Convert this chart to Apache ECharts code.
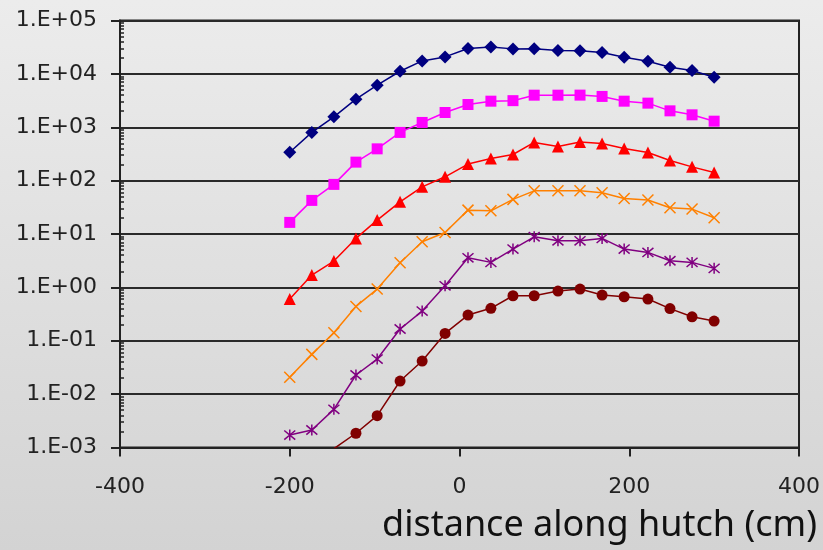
<!DOCTYPE html>
<html>
<head>
<meta charset="utf-8">
<script src="https://cdn.jsdelivr.net/npm/echarts@6/dist/echarts.min.js"></script>
<style>
  html, body { margin: 0; padding: 0; }
  #chart { width: 823px; height: 550px; }
</style>
</head>
<body>
<div id="chart"></div>
<script>
// Measurement positions along the hutch (cm)
const positions = [-200, -174, -148, -122, -97, -70, -44, -17, 10, 37, 63, 88, 116, 142, 168, 194, 222, 248, 274, 300];

// Six curves, top to bottom
const seriesA = [340, 800, 1570, 3360, 6140, 11200, 17500, 20800, 29900, 32000, 29400, 29500, 27400, 27000, 25200, 20500, 17300, 13300, 11600, 8670];
const seriesB = [16.5, 42.6, 85, 222, 394, 800, 1230, 1890, 2670, 3080, 3150, 3990, 3990, 4000, 3780, 3080, 2830, 2030, 1710, 1300];
const seriesC = [0.604, 1.70, 3.11, 8.27, 18.2, 40.1, 76.5, 118, 204, 260, 309, 519, 437, 530, 497, 401, 337, 239, 181, 142];
const seriesD = [0.0207, 0.0556, 0.141, 0.44, 0.93, 2.89, 7.14, 10.7, 28.0, 27.2, 44.5, 64.4, 64.4, 64.4, 59.1, 46.4, 43.2, 31.0, 29.3, 20.1];
const seriesE = [0.00171, 0.00213, 0.00519, 0.0228, 0.0454, 0.166, 0.36, 1.07, 3.58, 2.94, 5.21, 8.87, 7.46, 7.46, 8.27, 5.21, 4.52, 3.15, 2.94, 2.27];
const seriesF = [null, null, 0.00095, 0.00185, 0.00395, 0.0176, 0.0417, 0.137, 0.303, 0.405, 0.697, 0.697, 0.853, 0.93, 0.718, 0.667, 0.604, 0.40, 0.281, 0.234];

// Axis ticks
const xTicks = [-400, -200, 0, 200, 400];
const yMin = 1e-3, yMax = 1e5;

// Log minor ticks (2..9 within each decade)
const minorTicks = [];
for (let e = -3; e < 5; e++) {
  for (let m = 2; m <= 9; m++) minorTicks.push(m * Math.pow(10, e));
}

function sciLabel(v) {
  const e = Math.round(Math.log10(v));
  const s = e < 0 ? '-' : '+';
  const a = Math.abs(e);
  return '1.E' + s + (a < 10 ? '0' + a : a);
}

const crossPath = 'path://M0,0L10,10M10,0L0,10';
const starPath = 'path://M0,0L10,10M10,0L0,10M5,-1L5,11';

function makeSeries(values, color, symbol, size, stroked) {
  return {
    type: 'line',
    data: positions.map((x, i) => [x, values[i]]),
    symbol: symbol,
    symbolSize: size,
    showAllSymbol: true,
    connectNulls: false,
    lineStyle: { color: color, width: 1.5 },
    itemStyle: stroked
      ? { color: 'rgba(0,0,0,0)', borderColor: color, borderWidth: 1.5 }
      : { color: color, borderWidth: 0 },
    emphasis: { disabled: true },
    z: 3
  };
}

const axisFont = { fontFamily: 'DejaVu Sans', fontSize: 22, color: '#222' };

const chart = echarts.init(document.getElementById('chart'), null, { renderer: 'canvas' });
chart.setOption({
  animation: false,
  backgroundColor: {
    type: 'linear', x: 0, y: 0, x2: 0, y2: 1,
    colorStops: [{ offset: 0, color: '#ececec' }, { offset: 1, color: '#d3d3d3' }]
  },
  title: {
    text: 'distance along hutch (cm)',
    right: 1,
    top: 503,
    textStyle: { fontFamily: 'Noto Sans', fontSize: 36, fontWeight: 'normal', color: '#111' }
  },
  grid: {
    left: 120, right: 21, top: 20.5, bottom: 102.5,
    show: true, borderColor: '#222', borderWidth: 2, backgroundColor: 'transparent'
  },
  xAxis: {
    type: 'value',
    min: xTicks[0], max: xTicks[xTicks.length - 1], interval: 200,
    axisLine: { onZero: false, lineStyle: { color: '#222', width: 2 } },
    axisTick: { show: true, length: 9, lineStyle: { color: '#222', width: 2 } },
    splitLine: { show: false },
    axisLabel: Object.assign({ margin: 29 }, axisFont)
  },
  yAxis: [{
    type: 'log', logBase: 10, min: yMin, max: yMax,
    axisLine: { show: true, onZero: false, lineStyle: { color: '#222', width: 2 } },
    axisTick: { show: true, length: 9, lineStyle: { color: '#222', width: 2 } },
    splitLine: { show: true, lineStyle: { color: '#2a2a2a', width: 2 } },
    axisLabel: Object.assign({ margin: 23, formatter: sciLabel }, axisFont)
  }, {
    type: 'log', logBase: 10, min: yMin, max: yMax,
    position: 'left',
    axisLine: { show: false, onZero: false },
    axisTick: { show: true, inside: true, length: 4, customValues: minorTicks, lineStyle: { color: '#222', width: 1.5 } },
    axisLabel: { show: false, customValues: minorTicks },
    splitLine: { show: false }
  }],
  series: [
    makeSeries(seriesA, '#000080', 'diamond', 13, false),
    makeSeries(seriesB, '#ff00ff', 'rect', 11, false),
    makeSeries(seriesC, '#ff0000', 'triangle', 12, false),
    makeSeries(seriesD, '#ff8000', crossPath, 11, true),
    makeSeries(seriesE, '#800080', starPath, 11, true),
    makeSeries(seriesF, '#800000', 'circle', 11, false)
  ]
});
</script>
</body>
</html>
